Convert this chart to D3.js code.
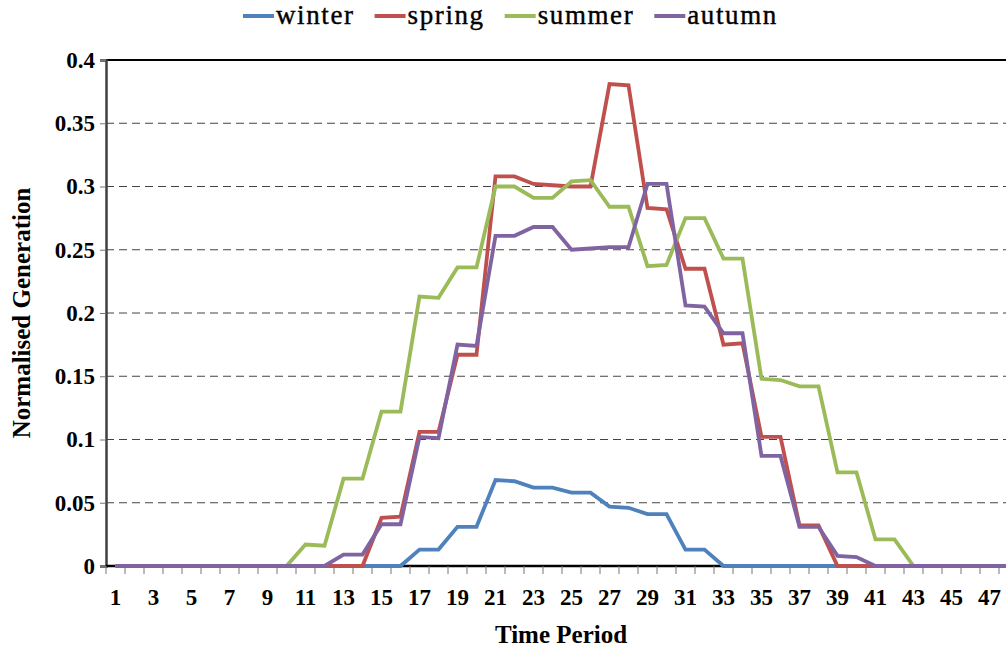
<!DOCTYPE html>
<html lang="en">
<head>
<meta charset="utf-8">
<title>Normalised Generation</title>
<script src="https://d3js.org/d3.v7.min.js"></script>
<style>
  body { margin: 0; background: #fff; }
  text { font-family: "Liberation Serif", "Times New Roman", serif; }
</style>
</head>
<body>
<script>
// periods 1..48
var periods = d3.range(1, 49);
var xTickLabels = d3.range(1, 49, 2);
var yTicks = [0, 0.05, 0.1, 0.15, 0.2, 0.25, 0.3, 0.35, 0.4];

var seasons = ["winter", "spring", "summer", "autumn"];
var colors = ["#4f81bd", "#c0504d", "#9bbb59", "#8064a2"];

var winter = [0,0,0,0,0,0,0,0,0,0,0,0,0,0,0,0,
  0.013,0.013,0.031,0.031,0.068,0.067,0.062,0.062,0.058,0.058,0.047,0.046,0.041,0.041,0.013,0.013,
  0,0,0,0,0,0,0,0,0,0,0,0,0,0,0,0];
var spring = [0,0,0,0,0,0,0,0,0,0,0,0,0,0,
  0.038,0.039,0.106,0.106,0.167,0.167,0.308,0.308,0.302,0.301,0.300,0.300,0.381,0.380,0.283,0.282,
  0.235,0.235,0.175,0.176,0.102,0.102,0.032,0.032,
  0,0,0,0,0,0,0,0,0,0];
var summer = [0,0,0,0,0,0,0,0,0,0,
  0.017,0.016,0.069,0.069,0.122,0.122,0.213,0.212,0.236,0.236,0.300,0.300,0.291,0.291,0.304,0.305,
  0.284,0.284,0.237,0.238,0.275,0.275,0.243,0.243,0.148,0.147,0.142,0.142,0.074,0.074,0.021,0.021,
  0,0,0,0,0,0];
var autumn = [0,0,0,0,0,0,0,0,0,0,0,0,
  0.009,0.009,0.033,0.033,0.102,0.101,0.175,0.174,0.261,0.261,0.268,0.268,0.250,0.251,0.252,0.252,
  0.302,0.302,0.206,0.205,0.184,0.184,0.087,0.087,0.031,0.031,0.008,0.007,
  0,0,0,0,0,0,0,0];

var series = [winter, spring, summer, autumn];

var width = 1006, height = 652;
var plotLeft = 106, plotTop = 60, plotBottom = 566;
var bandW = 19;

var svg = d3.select("body").append("svg")
  .attr("width", width)
  .attr("height", height);

var x = d3.scaleBand()
  .domain(periods)
  .range([plotLeft, plotLeft + periods.length * bandW]);

var y = d3.scaleLinear()
  .domain([0, 0.4])
  .range([plotBottom, plotTop]);

// dashed gridlines
svg.append("g")
  .selectAll("line")
  .data(yTicks.slice(1, -1))
  .enter().append("line")
    .attr("x1", plotLeft).attr("x2", width)
    .attr("y1", function(d){ return y(d); })
    .attr("y2", function(d){ return y(d); })
    .attr("stroke", "#444")
    .attr("stroke-width", 1.2)
    .attr("stroke-dasharray", "8,5");

// top border
svg.append("line")
  .attr("x1", plotLeft).attr("x2", width)
  .attr("y1", y(0.4)).attr("y2", y(0.4))
  .attr("stroke", "#000").attr("stroke-width", 2);

// y axis
var yAxis = svg.append("g")
  .attr("transform", "translate(" + plotLeft + ",0)")
  .call(d3.axisLeft(y).tickValues(yTicks).tickSize(6).tickPadding(5)
    .tickFormat(function(d){ return String(d); }));
yAxis.select(".domain").attr("stroke", "#404040").attr("stroke-width", 2.5);
yAxis.selectAll(".tick line").attr("stroke", "#777");
yAxis.selectAll("text")
  .attr("font-family", "Liberation Serif")
  .attr("font-size", 23)
  .attr("font-weight", "bold")
  .attr("fill", "#000");

// x axis line + ticks at band edges
svg.append("line")
  .attr("x1", plotLeft).attr("x2", width)
  .attr("y1", plotBottom).attr("y2", plotBottom)
  .attr("stroke", "#000").attr("stroke-width", 2.5);

svg.append("g")
  .selectAll("line")
  .data(periods)
  .enter().append("line")
    .attr("x1", function(d){ return x(d); })
    .attr("x2", function(d){ return x(d); })
    .attr("y1", plotBottom).attr("y2", plotBottom + 8)
    .attr("stroke", "#777");

svg.append("g")
  .selectAll("text")
  .data(xTickLabels)
  .enter().append("text")
    .attr("x", function(d){ return x(d) + x.bandwidth() / 2; })
    .attr("y", 605)
    .attr("text-anchor", "middle")
    .attr("font-size", 23)
    .attr("font-weight", "bold")
    .text(function(d){ return d; });

// lines
var line = d3.line()
  .x(function(d, i){ return x(periods[i]) + x.bandwidth() / 2; })
  .y(function(d){ return y(d); });

svg.append("g")
  .selectAll("path")
  .data(series)
  .enter().append("path")
    .attr("d", line)
    .attr("fill", "none")
    .attr("stroke", function(d, i){ return colors[i]; })
    .attr("stroke-width", 3.8)
    .attr("stroke-linejoin", "miter");

// axis titles
svg.append("text")
  .attr("x", 561).attr("y", 643)
  .attr("text-anchor", "middle")
  .attr("font-size", 25)
  .attr("font-weight", "bold")
  .text("Time Period");

svg.append("text")
  .attr("transform", "translate(30,313) rotate(-90)")
  .attr("text-anchor", "middle")
  .attr("font-size", 25)
  .attr("font-weight", "bold")
  .text("Normalised Generation");

// legend
var legend = svg.append("g");
var lx = 243;
seasons.forEach(function(s, i){
  legend.append("line")
    .attr("x1", lx).attr("x2", lx + 31)
    .attr("y1", 16).attr("y2", 16)
    .attr("stroke", colors[i]).attr("stroke-width", 4);
  var t = legend.append("text")
    .attr("x", lx + 33).attr("y", 24)
    .attr("font-size", 27)
    .attr("letter-spacing", 1.6)
    .attr("stroke", "#000")
    .attr("stroke-width", 0.4)
    .text(s);
  lx += 33 + t.node().getComputedTextLength() + 20;
});
</script>
</body>
</html>
